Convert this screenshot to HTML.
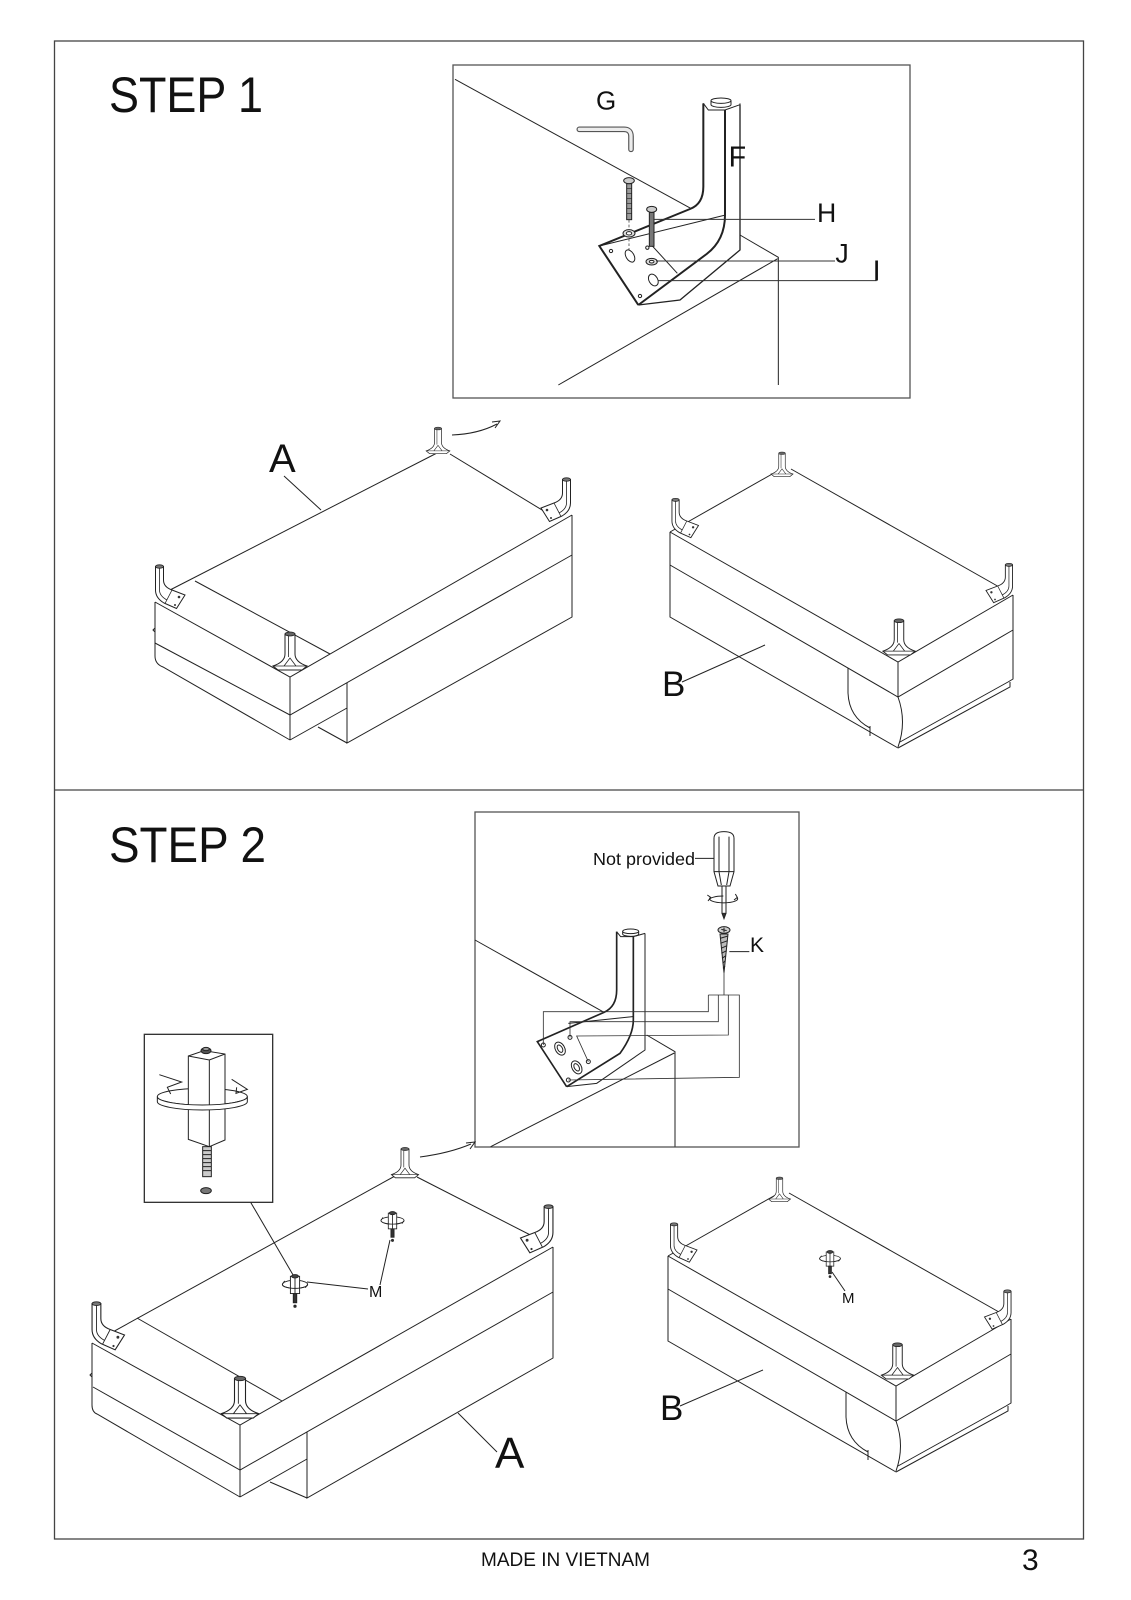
<!DOCTYPE html>
<html><head><meta charset="utf-8">
<style>
html,body{margin:0;padding:0;background:#fff;}
svg{display:block;}
text{font-family:"Liberation Sans",Arial,sans-serif;fill:#111;}
</style></head><body>
<svg width="1131" height="1600" viewBox="0 0 1131 1600" xmlns="http://www.w3.org/2000/svg" xmlns:xlink="http://www.w3.org/1999/xlink">
<defs>
  <g id="legY">
    <path d="M-5,-35 L-5,-15 Q-5,-7 -17,-3 L-12,1 L12,1 L17,-3 Q5,-7 5,-15 L5,-35 Z" fill="#fff" stroke="#222" stroke-width="1"/>
    <path d="M-17,-3 L17,-3 M-6,-3 L0,-11 L6,-3 M-1.5,-33 L-1.5,-12" fill="none" stroke="#222" stroke-width="0.8"/>
    <ellipse cx="0" cy="-35" rx="5" ry="2" fill="#666" stroke="#222" stroke-width="0.8"/>
  </g>
  <g id="legL">
    <path d="M0.5,1.5 L0.5,25 Q0.5,33 9,38 L21.5,43.5 L30,30 L17,25 Q8.5,22 8.5,15 L8.5,1.5 Z" fill="#fff" stroke="#222" stroke-width="1"/>
    <path d="M17,25 L10,38.5 M4.5,3 L4.5,25 Q4.5,31 12,35" fill="none" stroke="#222" stroke-width="0.8"/>
    <ellipse cx="4.5" cy="1.5" rx="4" ry="1.7" fill="#777" stroke="#222" stroke-width="0.8"/>
    <circle cx="24" cy="32" r="1.3" fill="#333"/>
    <circle cx="20" cy="40" r="1" fill="#333"/>
  </g>
  <g id="mpost" stroke="#222" stroke-width="0.8">
    <ellipse cx="0" cy="9" rx="11" ry="3.5" fill="none"/>
    <rect x="-4" y="2" width="8" height="15" fill="#fff"/>
    <line x1="0" y1="3" x2="0" y2="17"/>
    <path d="M-11,9 A11,3.5 0 0 0 11,9" fill="none"/>
    <path d="M-11,9 l2,-3 M11,9 l-2,3" fill="none"/>
    <ellipse cx="0" cy="2" rx="3" ry="1.5" fill="#444"/>
    <rect x="-1.5" y="17" width="3" height="8" fill="#333"/>
    <circle cx="0" cy="28" r="1" fill="#333"/>
  </g>
  <g id="tableB" fill="none" stroke="#222" stroke-width="1">
    <path d="M781,469 L670,532"/>
    <path d="M791,469 L1008,592"/>
    <path d="M670,532 L898,662 L1013,595"/>
    <path d="M670,532 L670,617 L898,748"/>
    <path d="M670,565 L898,697 L1013,630"/>
    <path d="M898,662 L898,697"/>
    <path d="M1013,595 L1013,679 L1008,682 L900,742"/>
    <path d="M898,748 L1010,687 L1010,682"/>
    <path d="M848,668 L848,693 Q849,717 870,728"/>
    <path d="M898,697 Q907,722 898,747"/>
    <path d="M870,726 L870,736"/>
  </g>
</defs>

<!-- frame -->
<rect x="54.5" y="41" width="1029" height="1498" fill="none" stroke="#444" stroke-width="1.3"/>
<line x1="54.5" y1="790" x2="1083.5" y2="790" stroke="#444" stroke-width="1.3"/>

<text x="109" y="112" font-size="50" textLength="154" lengthAdjust="spacingAndGlyphs">STEP 1</text>
<text x="109" y="862" font-size="50" textLength="157" lengthAdjust="spacingAndGlyphs">STEP 2</text>

<!-- ============ STEP 1 INSET ============ -->
<rect x="453" y="65" width="457" height="333" fill="none" stroke="#555" stroke-width="1.3"/>
<g transform="translate(440 60) scale(0.333333)" fill="none" stroke="#222" stroke-width="3">
  <path d="M45,58 L752,445"/>
  <path d="M900,525 L1015,592 L1015,975 M1013,596 L355,975"/>
  <path d="M418,208 L552,208 Q573,208 573,229 L573,268" stroke="#555" stroke-width="17" stroke-linecap="round"/>
  <path d="M418,208 L552,208 Q573,208 573,229 L573,268" stroke="#ececec" stroke-width="10" stroke-linecap="round"/>
  <path d="M790,130 L790,380 Q790,432 750,447 L478,558 L595,735 L720,720 L900,570 L900,132 Z" fill="#fff" stroke="none"/>
  <path d="M852,466 L478,558"/>
  <path d="M628,548 L712,640"/>
  <path d="M790,130 L790,380 Q790,432 750,447 L478,558 L595,735" stroke-width="6"/>
  <path d="M855,150 L855,465 Q855,540 800,582 L595,735" stroke-width="6"/>
  <path d="M900,134 L900,570 L720,720 L595,735" stroke-width="4"/>
  <path d="M790,130 L805,150 L855,150 L900,134 L900,130"/>
  <path d="M813,122 L813,134 A30,8 0 0 0 873,134 L873,122" fill="#fff"/>
  <ellipse cx="843" cy="122" rx="30" ry="8" fill="#fff"/>
  <!-- bolt 1 -->
  <line x1="567" y1="480" x2="567" y2="585" stroke-dasharray="8 6" stroke-width="2"/>
  <rect x="560" y="371" width="15" height="108" fill="#9a9a9a"/>
  <path d="M560,385 h15 M560,400 h15 M560,415 h15 M560,430 h15 M560,445 h15 M560,460 h15" stroke-width="2"/>
  <ellipse cx="567" cy="362" rx="16" ry="9" fill="#ccc"/>
  <ellipse cx="567" cy="520" rx="18" ry="11" fill="#ddd"/>
  <ellipse cx="567" cy="520" rx="8" ry="5" fill="#fff"/>
  <ellipse cx="570" cy="588" rx="12" ry="20" transform="rotate(-30 570 588)" fill="#fff"/>
  <!-- bolt 2 -->
  <rect x="628" y="457" width="14" height="102" fill="#777"/>
  <ellipse cx="635" cy="448" rx="15" ry="9" fill="#ccc"/>
  <ellipse cx="635" cy="605" rx="17" ry="10" fill="#ddd"/>
  <ellipse cx="635" cy="605" rx="7" ry="4" fill="#fff"/>
  <ellipse cx="640" cy="660" rx="13" ry="19" transform="rotate(-30 640 660)" fill="#fff"/>
  <circle cx="513" cy="573" r="5"/>
  <circle cx="622" cy="563" r="5"/>
  <circle cx="600" cy="708" r="5"/>
  <!-- leaders -->
  <path d="M640,478 L1125,478 M648,603 L1185,603 M655,662 L1310,662" stroke="#333"/>
  <g stroke="none">
    <text x="468" y="148" font-size="78">G</text>
    <text x="866" y="320" font-size="86">F</text>
    <text x="1131" y="486" font-size="80">H</text>
    <text x="1186" y="608" font-size="80">J</text>
    <text x="1298" y="662" font-size="86">I</text>
  </g>
</g>

<!-- ============ STEP 1 TABLE A ============ -->
<g fill="none" stroke="#222" stroke-width="1">
  <path d="M437,453 L170,590"/>
  <path d="M450,454 L547,513"/>
  <path d="M155,602 L290,677 L572,515"/>
  <path d="M195,581 L330,654"/>
  <path d="M290,677 L290,740"/>
  <path d="M155,602 L155,656 Q155,664 163,667 L290,740"/>
  <path d="M155,628 l-2,2 l2,2"/>
  <path d="M155,643 L290,715 L572,555"/>
  <path d="M572,515 L572,617 L347,743 L347,683"/>
  <path d="M290,740 L347,708"/>
  <path d="M318,727 L347,743"/>
  <path d="M284,476 L321,510"/>
  <path d="M452,435 Q478,434 497,424"/>
  <path d="M492,422 L500,421 L495,428"/>
</g>
<text x="269" y="472" font-size="40">A</text>
<use xlink:href="#legY" transform="translate(438 453) scale(0.7)"/>
<use xlink:href="#legY" transform="translate(290 669)"/>
<use xlink:href="#legL" transform="translate(155 565)"/>
<use xlink:href="#legL" transform="translate(571 478) scale(-1 1)"/>

<!-- ============ STEP 1 TABLE B ============ -->
<use xlink:href="#tableB"/>
<line x1="682" y1="682" x2="765" y2="645" stroke="#222" stroke-width="1"/>
<text x="662" y="696" font-size="35">B</text>
<use xlink:href="#legY" transform="translate(782 476) scale(0.65)"/>
<use xlink:href="#legY" transform="translate(899 654) scale(0.95)"/>
<use xlink:href="#legL" transform="translate(671.5 498.5) scale(0.9)"/>
<use xlink:href="#legL" transform="translate(1013 563.5) scale(-0.9 0.9)"/>

<!-- ============ STEP 2 INSET ============ -->
<rect x="475" y="812" width="324" height="335" fill="none" stroke="#555" stroke-width="1.3"/>
<g transform="translate(460 790) scale(0.333333)" fill="none" stroke="#222" stroke-width="3">
  <path d="M45,450 L432,667"/>
  <path d="M560,735 L645,785 L645,1070 M643,789 L92,1070"/>
  <path d="M470,425 L470,600 Q470,650 432,667 L232,755 L320,890 L410,880 L555,780 L555,428 Z" fill="#fff" stroke="none"/>
  <path d="M325,700 L518,680"/>
  <path d="M470,425 L470,600 Q470,650 432,667 L232,755 L320,890" stroke-width="5"/>
  <path d="M520,440 L520,690 Q520,735 480,790 L320,890" stroke-width="5"/>
  <path d="M555,430 L555,780 L410,880 L320,890"/>
  <path d="M470,425 L482,440 L520,440 L555,430"/>
  <path d="M488,424 L488,432 A24,7 0 0 0 536,432 L536,424" fill="#fff"/>
  <ellipse cx="512" cy="424" rx="24" ry="7" fill="#fff"/>
  <circle cx="250" cy="765" r="6"/>
  <circle cx="330" cy="742" r="6"/>
  <circle cx="385" cy="815" r="6"/>
  <circle cx="325" cy="870" r="6"/>
  <ellipse cx="300" cy="776" rx="14" ry="21" transform="rotate(-30 300 776)" fill="#fff"/>
  <ellipse cx="300" cy="776" rx="7" ry="12" transform="rotate(-30 300 776)"/>
  <ellipse cx="350" cy="832" rx="14" ry="21" transform="rotate(-30 350 832)" fill="#fff"/>
  <ellipse cx="350" cy="832" rx="7" ry="12" transform="rotate(-30 350 832)"/>
  <!-- routing lines -->
  <g stroke="#333" stroke-width="2.5">
    <path d="M792,545 L792,615"/>
    <path d="M745,615 L838,615 L838,862 L325,870"/>
    <path d="M745,615 L745,665 L250,665 L250,765"/>
    <path d="M775,615 L775,695 L330,695 L330,742"/>
    <path d="M805,615 L805,735 L350,738 L385,815"/>
  </g>
  <!-- screwdriver -->
  <path d="M705,205 L762,205"/>
  <path d="M762,145 Q762,125 792,125 Q822,125 822,145 L822,245 L810,288 L774,288 L762,245 Z" fill="#fff"/>
  <path d="M777,140 L777,245 L784,285 M807,140 L807,245 L800,285 M762,245 L822,245"/>
  <rect x="786" y="288" width="12" height="82" fill="#fff"/>
  <path d="M786,370 L792,386 L798,370" fill="#333"/>
  <path d="M752,322 A42,12 0 1 0 830,322" />
  <path d="M748,330 A42,12 0 0 1 790,318"/>
  <path d="M742,315 L752,322 L744,333 M826,312 L832,322 L822,330"/>
  <!-- screw K -->
  <path d="M780,432 L804,432 L792,548 Z" fill="#bbb"/>
  <path d="M780,445 L804,438 M781,460 L803,452 M783,475 L801,467 M784,490 L800,482 M786,505 L798,497 M788,520 L796,512 M789,535 L795,528"/>
  <ellipse cx="792" cy="420" rx="18" ry="10" fill="#ccc"/>
  <path d="M784,418 L800,422 M792,413 L792,427"/>
  <path d="M808,485 L868,485"/>
</g>
<text x="593" y="865" font-size="17.5" textLength="102" lengthAdjust="spacingAndGlyphs">Not provided</text>
<text x="750" y="952" font-size="21">K</text>

<!-- ============ STEP 2 SMALL BOX ============ -->
<g transform="translate(80 1000) scale(0.333333)" fill="none" stroke="#222" stroke-width="3">
  <rect x="193" y="103" width="385" height="504" stroke="#333" stroke-width="4"/>
  <path d="M512,607 L641,828"/>
  <ellipse cx="367" cy="290" rx="135" ry="25"/>
  <path d="M325,168 L325,418 L388,440 L435,420 L435,162 L372,152 Z" fill="#fff"/>
  <path d="M325,168 L388,180 L435,162 M388,180 L388,440"/>
  <path d="M232,290 L232,305 A135,25 0 0 0 502,305 L502,290 A135,25 0 0 1 232,290 Z" fill="#fff"/>
  <path d="M238,224 L305,246 L262,262 L272,282 M455,238 L502,268 L468,280 L470,262"/>
  <rect x="368" y="440" width="26" height="90" fill="#ccc"/>
  <path d="M368,452 h26 M368,464 h26 M368,476 h26 M368,488 h26 M368,500 h26 M368,512 h26"/>
  <ellipse cx="378" cy="572" rx="16" ry="9" fill="#777"/>
  <ellipse cx="378" cy="152" rx="15" ry="9" fill="#555"/>
  <ellipse cx="378" cy="147" rx="10" ry="5" fill="#999"/>
</g>

<!-- ============ STEP 2 TABLE A ============ -->
<g fill="none" stroke="#222" stroke-width="1">
  <path d="M395,1176 L100,1339"/>
  <path d="M417,1177 L548,1244"/>
  <path d="M92,1343 L240,1425 L553,1247"/>
  <path d="M137,1318 L282,1401"/>
  <path d="M240,1425 L240,1497"/>
  <path d="M92,1343 L92,1405 Q92,1412 97,1414 L240,1497"/>
  <path d="M92,1373 l-2,2 l2,2"/>
  <path d="M93,1387 L240,1470 L553,1292"/>
  <path d="M553,1247 L553,1358 L307,1498 L307,1432"/>
  <path d="M240,1497 L307,1459"/>
  <path d="M270,1482 L307,1498"/>
  <path d="M458,1413 L497,1452"/>
  <path d="M420,1157 Q450,1153 471,1144"/>
  <path d="M466,1143 L475,1142 L470,1149"/>
  <path d="M307,1282 L368,1289"/>
  <path d="M380,1285 L390,1240"/>
</g>
<text x="495" y="1468" font-size="44">A</text>
<text x="369" y="1297" font-size="16">M</text>
<use xlink:href="#legY" transform="translate(405 1177) scale(0.8)"/>
<use xlink:href="#legY" transform="translate(240 1417) scale(1.1)"/>
<use xlink:href="#legL" transform="translate(91.5 1302) scale(1.1)"/>
<use xlink:href="#legL" transform="translate(553.5 1205) scale(-1.1 1.1)"/>
<use xlink:href="#mpost" transform="translate(295 1274) scale(1.15)"/>
<use xlink:href="#mpost" transform="translate(392.5 1211) scale(1.05)"/>

<!-- ============ STEP 2 TABLE B ============ -->
<use xlink:href="#tableB" transform="translate(-2 724)"/>
<line x1="680" y1="1406" x2="763" y2="1370" stroke="#222" stroke-width="1"/>
<text x="660" y="1420" font-size="35">B</text>
<use xlink:href="#legY" transform="translate(779.5 1201) scale(0.65)"/>
<use xlink:href="#legY" transform="translate(897.5 1378) scale(0.95)"/>
<use xlink:href="#legL" transform="translate(670 1223) scale(0.9)"/>
<use xlink:href="#legL" transform="translate(1011.5 1290) scale(-0.9 0.9)"/>
<use xlink:href="#mpost" transform="translate(830 1250) scale(0.95)"/>
<line x1="832" y1="1272" x2="845" y2="1291" stroke="#222" stroke-width="1"/>
<text x="842" y="1303" font-size="15">M</text>

<!-- footer -->
<text x="481" y="1566" font-size="19" textLength="169" lengthAdjust="spacingAndGlyphs">MADE IN VIETNAM</text>
<text x="1022" y="1570" font-size="30">3</text>
</svg>
</body></html>
